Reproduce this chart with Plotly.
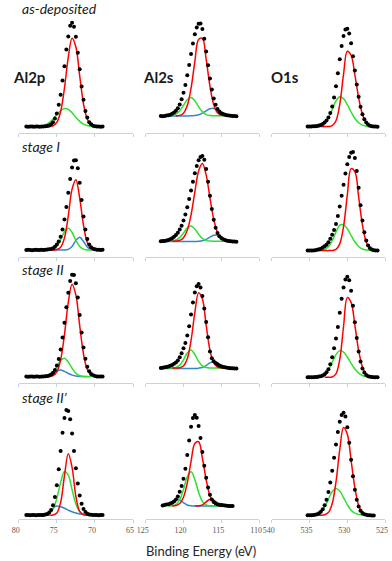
import plotly.graph_objects as go

N = None

# binding energy grids (eV) of the measured points
al2p_be = [79.0, 78.75, 78.5, 78.25, 78.0, 77.75, 77.5, 77.25, 77.0, 76.75, 76.5, 76.25, 76.0, 75.75,
           75.5, 75.25, 75.0, 74.75, 74.5, 74.25, 74.0, 73.75, 73.5, 73.25, 73.0, 72.75, 72.5, 72.25,
           72.0, 71.75, 71.5, 71.25, 71.0, 70.75, 70.5, 70.25, 70.0, 69.75, 69.5, 69.25, 69.0]
al2s_be = [123.0, 122.75, 122.5, 122.25, 122.0, 121.75, 121.5, 121.25, 121.0, 120.75, 120.5, 120.25,
           120.0, 119.75, 119.5, 119.25, 119.0, 118.75, 118.5, 118.25, 118.0, 117.75, 117.5, 117.25,
           117.0, 116.75, 116.5, 116.25, 116.0, 115.75, 115.5, 115.25, 115.0, 114.75, 114.5, 114.25,
           114.0, 113.75, 113.5, 113.25, 113.0]
o1s_be = [535.25, 535.0, 534.75, 534.5, 534.25, 534.0, 533.75, 533.5, 533.25, 533.0, 532.75, 532.5,
          532.25, 532.0, 531.75, 531.5, 531.25, 531.0, 530.75, 530.5, 530.25, 530.0, 529.75, 529.5,
          529.25, 529.0, 528.75, 528.5, 528.25, 528.0, 527.75, 527.5, 527.25, 527.0, 526.75, 526.5,
          526.25, 526.0]

# grids of the fitted components
al2p_fit_be = [79.0, 78.5, 78.0, 77.5, 77.0, 76.5, 76.0, 75.5, 75.0, 74.5, 74.0, 73.5, 73.0, 72.5,
               72.0, 71.5, 71.0, 70.5, 70.0, 69.5, 69.0]
al2s_fit_be = [123.0, 122.5, 122.0, 121.5, 121.0, 120.5, 120.0, 119.5, 119.0, 118.5, 118.0, 117.5,
               117.0, 116.5, 116.0, 115.5, 115.0, 114.5, 114.0, 113.5, 113.0]
o1s_fit_be = [535.0, 534.5, 534.0, 533.5, 533.0, 532.5, 532.0, 531.5, 531.0, 530.5, 530.0, 529.5,
              529.0, 528.5, 528.0, 527.5, 527.0, 526.5, 526.0]

# ---- as-deposited ----
al2p_asdep = [5.6, 5.4, 5.7, 5.5, 5.3, 5.6, 5.5, 5.4, 5.7, 5.6, 5.8, 6.1, 6.4, 7.6, 9.2, 12.6, 16.8,
              24.3, 32.9, 45.2, 57.6, 71.9, 83.2, 92.4, 95.0, 91.5, 83.0, 69.2, 54.9, 40.0, 28.7, 19.0,
              13.4, 9.3, 7.5, 6.2, 5.9, 5.5, 5.6, 5.4, 5.5]
al2p_asdep_red = [N, N, N, N, N, 5.5, 5.6, 6.2, 9.1, 18.5, 38.7, 65.2, 81.7, 74.1, 49.2, 25.2, 11.8,
                  6.9, 5.7, N, N]
al2p_asdep_green = [N, N, N, N, 6.1, 7.0, 8.9, 12.0, 15.9, 19.4, 21.2, 20.4, 17.4, 13.5, 10.0, 7.6,
                    6.4, 5.8, 5.6, N, N]

al2s_asdep = [14.6, 14.5, 14.7, 15.1, 15.4, 15.8, 16.5, 17.6, 19.2, 21.4, 24.6, 29.0, 34.6, 41.4,
              49.7, 58.6, 68.0, 77.2, 85.1, 90.9, 94.1, 94.3, 89.7, 81.2, 70.3, 58.4, 46.9, 37.4, 29.8,
              24.3, 20.7, 18.5, 17.1, 16.3, 15.8, 15.4, 15.1, 14.9, 14.7, 14.6, 14.5]
al2s_asdep_red = [N, N, N, N, 14.9, 15.2, 17.1, 23.6, 38.6, 61.5, 80.7, 81.5, 63.4, 40.4, 24.3, 17.4,
                  15.3, 14.9, N, N, N]
al2s_asdep_green = [N, 14.8, 14.9, 15.2, 16.3, 19.2, 23.9, 28.7, 30.5, 27.8, 22.6, 18.3, 15.9, 15.1,
                    14.9, 14.8, 14.8, 14.8, 14.8, N, N]
al2s_asdep_blue = [N, 14.7, 14.7, 14.7, 14.7, 14.7, 14.7, 14.7, 14.8, 15.0, 15.7, 17.1, 19.1, 20.9,
                   21.2, 19.9, 17.9, 16.1, 15.2, 14.8, N]

o1s_asdep = [5.6, 5.5, 5.7, 5.8, 5.9, 6.1, 6.4, 6.9, 7.7, 9.0, 10.7, 13.4, 17.2, 22.9, 30.6, 40.2,
             51.6, 63.6, 74.9, 83.7, 89.2, 89.9, 85.7, 77.3, 66.2, 53.8, 41.8, 31.2, 22.6, 16.2, 11.8,
             9.0, 7.3, 6.3, 5.9, 5.6, 5.5, 5.4]
o1s_asdep_red = [N, N, 5.5, 5.5, 5.5, 5.6, 6.3, 10.6, 24.7, 50.6, 70.5, 67.0, 50.1, 30.3, 16.2, 9.0,
                 6.4, 5.7, 5.5]
o1s_asdep_green = [N, N, 5.7, 6.5, 8.6, 13.1, 20.2, 27.6, 31.2, 29.6, 24.5, 18.1, 12.5, 8.8, 6.8, 5.9,
                   5.6, N, N]

# ---- stage I ----
al2p_st1 = [6.0, 6.2, 6.1, 5.9, 6.1, 6.2, 6.0, 6.1, 6.2, 6.1, 6.3, 6.4, 6.7, 7.0, 7.6, 8.8, 10.7,
            13.3, 17.5, 23.7, 32.3, 43.0, 55.3, 67.3, 77.1, 83.1, 83.5, 76.6, 64.1, 49.2, 35.0, 23.6,
            15.6, 10.8, 8.5, 7.2, 6.6, 6.3, 6.2, 6.1, 6.2]
al2p_st1_red = [N, N, N, N, N, N, 6.0, 6.0, 6.4, 8.4, 16.4, 35.3, 58.5, 66.6, 50.8, 27.3, 12.5, 7.3,
                6.2, N, N]
al2p_st1_green = [N, N, N, N, N, N, 6.2, 6.9, 9.4, 14.8, 21.6, 24.7, 21.1, 14.3, 9.1, 6.8, 6.1, 6.0,
                  N, N, N]
al2p_st1_blue = [N, N, N, N, N, N, N, 6.0, 6.0, 6.0, 6.0, 6.6, 9.1, 14.2, 17.0, 13.3, 8.5, 6.4, 6.0,
                 N, N]

al2s_st1 = [13.5, 13.7, 13.9, 14.2, 14.7, 15.3, 16.2, 17.4, 18.9, 20.9, 23.6, 27.0, 31.4, 36.7, 42.8,
            50.1, 57.4, 64.9, 72.1, 78.4, 83.3, 86.2, 87.1, 83.8, 75.8, 64.8, 52.7, 41.3, 32.1, 25.3,
            20.6, 17.9, 16.3, 15.3, 14.6, 14.1, 13.9, 13.6, 13.4, 13.3, 13.2]
al2s_st1_red = [N, N, N, 13.6, 13.7, 14.3, 16.6, 23.0, 36.3, 55.9, 74.2, 80.5, 70.6, 50.9, 32.5, 21.0,
                15.8, 14.1, 13.7, N, N]
al2s_st1_green = [N, 13.6, 13.6, 13.8, 14.6, 16.7, 20.7, 25.1, 26.7, 24.1, 19.6, 16.0, 14.3, 13.7,
                  13.6, 13.6, 13.6, 13.6, 13.6, 13.6, N]
al2s_st1_blue = [13.3, 13.3, 13.3, 13.3, 13.3, 13.3, 13.3, 13.3, 13.3, 13.3, 13.5, 14.0, 15.2, 17.1,
                 18.7, 18.8, 17.2, 15.3, 14.0, 13.5, 13.3]

o1s_st1 = [5.5, 5.5, 5.6, 5.7, 5.8, 6.2, 6.6, 7.2, 8.1, 9.2, 10.6, 12.8, 15.7, 19.1, 23.2, 28.4, 35.4,
           43.5, 52.8, 62.2, 72.0, 79.9, 86.1, 89.9, 90.6, 85.3, 74.2, 59.7, 44.7, 31.5, 21.4, 14.3,
           10.0, 7.6, 6.4, 5.8, 5.6, 5.5]
o1s_st1_red = [N, N, 5.5, 5.5, 5.5, 5.5, 5.6, 6.5, 11.3, 26.2, 53.3, 76.1, 73.7, 51.8, 27.7, 13.0,
               7.3, 5.8, 5.5]
o1s_st1_green = [N, N, 5.5, 5.7, 6.5, 8.8, 14.0, 21.4, 27.4, 27.9, 24.3, 18.6, 13.1, 9.1, 6.9, 6.0,
                 5.6, 5.5, N]

# ---- stage II ----
al2p_st2 = [5.5, 5.4, 5.6, 5.5, 5.3, 5.5, 5.6, 5.4, 5.5, 5.6, 5.8, 6.0, 6.5, 7.3, 8.8, 11.3, 15.1,
            20.7, 28.9, 39.3, 51.9, 65.2, 77.9, 87.9, 93.3, 93.0, 85.9, 73.6, 58.6, 43.6, 30.6, 20.9,
            14.1, 10.1, 7.8, 6.6, 6.0, 5.7, 5.6, 5.5, 5.5]
al2p_st2_red = [N, N, N, N, N, 5.5, 5.6, 6.3, 9.6, 20.0, 41.6, 69.3, 85.1, 75.7, 49.4, 25.0, 11.6,
                6.8, 5.7, 5.5, N]
al2p_st2_green = [N, N, N, N, 5.5, 5.8, 6.7, 9.4, 14.2, 19.4, 21.3, 18.1, 12.7, 8.4, 6.3, 5.7, 5.5,
                  5.5, N, N, N]
al2p_st2_blue = [N, N, N, N, N, 5.5, 5.6, 6.7, 10.1, 11.1, 10.0, 8.3, 6.8, 6.0, 5.6, 5.5, 5.5, N, N,
                 N, N]

al2s_st2 = [13.0, 13.2, 13.5, 13.8, 14.2, 14.8, 15.5, 16.5, 17.7, 19.5, 22.1, 25.7, 29.9, 34.4, 41.0,
            48.9, 59.1, 69.3, 78.0, 83.5, 85.3, 82.4, 75.1, 64.2, 52.6, 39.5, 27.1, 21.3, 18.8, 17.3,
            16.2, 15.1, 14.4, 13.9, 13.5, 13.2, 13.0, 12.8, 12.7, 12.6, 12.6]
al2s_st2_red = [N, N, N, 12.9, 12.9, 13.2, 14.7, 20.9, 36.7, 60.7, 77.7, 72.4, 49.8, 28.4, 17.3, 13.8,
                13.0, 12.9, 12.9, N, N]
al2s_st2_green = [N, 12.9, 12.9, 13.0, 13.4, 15.4, 20.0, 25.9, 28.4, 24.6, 18.6, 14.7, 13.3, 12.9,
                  12.9, 12.9, 12.9, 12.9, N, N, N]
al2s_st2_blue = [12.6, 12.6, 12.6, 12.6, 12.6, 12.6, 12.6, 12.6, 12.6, 12.6, 12.8, 13.4, 15.1, 17.4,
                 18.4, 17.1, 14.9, 13.3, 12.7, 12.6, 12.6]

o1s_st2 = [5.0, 5.0, 5.0, 5.0, 5.1, 5.2, 5.5, 5.9, 6.5, 7.5, 9.2, 11.8, 16.2, 22.3, 29.9, 38.3, 48.3,
           60.5, 72.6, 82.4, 89.3, 91.7, 88.5, 79.5, 66.7, 52.4, 38.7, 27.2, 18.5, 12.6, 9.0, 6.9, 5.8,
           5.3, 5.1, 5.0, 4.9, 4.9]
o1s_st2_red = [N, N, N, N, 4.9, 4.9, 5.2, 7.9, 20.3, 48.7, 73.6, 69.5, 49.8, 28.0, 13.8, 7.4, 5.4,
               4.9, N]
o1s_st2_green = [N, N, 5.1, 5.7, 7.4, 11.4, 17.7, 24.5, 27.9, 26.6, 22.4, 17.0, 12.0, 8.5, 6.5, 5.5,
                 5.1, 4.9, N]

# ---- stage II' ----
al2p_st2b = [3.4, 3.5, 3.3, 3.4, 3.5, 3.3, 3.4, 3.5, 3.4, 3.5, 3.8, 4.4, 5.6, 7.7, 11.9, 18.9, 29.2,
             42.8, 58.7, 74.4, 87.1, 93.9, 93.2, 85.9, 73.6, 58.7, 43.7, 30.5, 20.3, 13.2, 8.6, 6.0,
             4.6, 3.9, 3.6, 3.5, 3.4, 3.4, 3.3, 3.4, 3.4]
al2p_st2b_red = [N, N, N, N, N, 3.4, 3.4, 3.4, 5.1, 14.3, 37.2, 56.2, 44.5, 19.4, 6.5, 3.7, 3.4, 3.4,
                 3.4, N, N]
al2p_st2b_green = [N, N, N, N, N, 3.6, 4.7, 8.5, 17.8, 31.4, 40.9, 37.9, 25.3, 13.0, 6.3, 4.0, 3.5,
                   3.4, N, N, N]
al2p_st2b_blue = [N, N, N, N, 3.4, 3.6, 5.1, 9.3, 11.2, 10.5, 9.3, 7.7, 6.2, 5.1, 4.3, 3.8, 3.6, 3.5,
                  3.4, N, N]

al2s_st2b = [N, 11.7, 12.0, 12.4, 12.8, 13.3, 14.0, 15.1, 16.9, 19.4, 23.4, 28.5, 34.8, 43.4, 55.2,
             67.7, 79.5, 87.0, 89.7, 87.2, 80.1, 69.8, 57.8, 46.0, 35.5, 27.1, 21.0, 16.8, 14.7, 13.6,
             12.8, 12.3, 12.0, 11.8, 11.6, 11.4, 11.3, 11.2, 11.2, N, N]
al2s_st2b_red = [N, N, N, 11.3, 11.6, 13.3, 18.8, 31.1, 49.6, 65.1, 66.6, 52.6, 33.8, 20.2, 13.8,
                 11.8, 11.3, 11.2, N, N, N]
al2s_st2b_red2 = [N, N, N, N, N, N, N, N, N, 11.2, 11.4, 12.2, 14.7, 17.1, 16.2, 13.3, 11.6, 11.2, N,
                  N, N]
al2s_st2b_green = [N, N, 11.2, 11.4, 12.5, 16.6, 25.5, 36.4, 40.7, 34.1, 23.0, 15.2, 12.1, 11.3, 11.2,
                   11.2, N, N, N, N, N]
al2s_st2b_blue = [11.3, 11.6, 12.8, 15.1, 17.1, 16.5, 14.0, 12.1, 11.4, 11.2, 11.2, 11.2, 11.2, 11.2,
                  11.2, 11.2, 11.2, 11.2, 11.2, 11.2, N]

o1s_st2b = [3.2, 3.2, 3.3, 3.4, 3.7, 4.1, 5.0, 6.3, 8.5, 11.9, 16.7, 23.2, 31.5, 41.6, 52.7, 64.3, 75.0,
            83.8, 89.7, 91.7, 88.3, 79.0, 65.8, 51.0, 36.8, 25.2, 16.6, 10.7, 7.1, 5.1, 4.0, 3.6, 3.3,
            3.2, 3.1, 3.0, N, N]
o1s_st2b_red = [N, N, 3.2, 3.2, 3.6, 5.5, 13.1, 31.9, 59.7, 78.8, 73.1, 50.6, 26.9, 11.8, 5.6, 3.7, 3.2,
                N, N]
o1s_st2b_green = [N, 3.4, 4.1, 6.1, 10.4, 17.0, 23.6, 26.4, 24.1, 18.5, 12.4, 7.6, 5.0, 3.8, 3.3, 3.2,
                  N, N, N]

row_labels = ["as-deposited", "stage I", "stage II", "stage II\u2019"]
col_labels = ["Al2p", "Al2s", "O1s"]
x_ranges = [[80, 65], [125, 110], [540, 525]]
x_ticks = [[80, 75, 70, 65], [125, 120, 115, 110], [540, 535, 530, 525]]

RED = "#ff0000"
GREEN = "#2ee02e"
BLUE = "#3385cc"

panels = [
    (0, 0, al2p_be, al2p_asdep, al2p_fit_be, [(al2p_asdep_green, GREEN), (al2p_asdep_red, RED)]),
    (0, 1, al2s_be, al2s_asdep, al2s_fit_be, [(al2s_asdep_blue, BLUE), (al2s_asdep_green, GREEN), (al2s_asdep_red, RED)]),
    (0, 2, o1s_be, o1s_asdep, o1s_fit_be, [(o1s_asdep_green, GREEN), (o1s_asdep_red, RED)]),
    (1, 0, al2p_be, al2p_st1, al2p_fit_be, [(al2p_st1_blue, BLUE), (al2p_st1_green, GREEN), (al2p_st1_red, RED)]),
    (1, 1, al2s_be, al2s_st1, al2s_fit_be, [(al2s_st1_blue, BLUE), (al2s_st1_green, GREEN), (al2s_st1_red, RED)]),
    (1, 2, o1s_be, o1s_st1, o1s_fit_be, [(o1s_st1_green, GREEN), (o1s_st1_red, RED)]),
    (2, 0, al2p_be, al2p_st2, al2p_fit_be, [(al2p_st2_blue, BLUE), (al2p_st2_green, GREEN), (al2p_st2_red, RED)]),
    (2, 1, al2s_be, al2s_st2, al2s_fit_be, [(al2s_st2_blue, BLUE), (al2s_st2_green, GREEN), (al2s_st2_red, RED)]),
    (2, 2, o1s_be, o1s_st2, o1s_fit_be, [(o1s_st2_green, GREEN), (o1s_st2_red, RED)]),
    (3, 0, al2p_be, al2p_st2b, al2p_fit_be, [(al2p_st2b_blue, BLUE), (al2p_st2b_green, GREEN), (al2p_st2b_red, RED)]),
    (3, 1, al2s_be, al2s_st2b, al2s_fit_be, [(al2s_st2b_blue, BLUE), (al2s_st2b_green, GREEN), (al2s_st2b_red2, RED), (al2s_st2b_red, RED)]),
    (3, 2, o1s_be, o1s_st2b, o1s_fit_be, [(o1s_st2b_green, GREEN), (o1s_st2b_red, RED)]),
]

# page geometry (px) of the 392x561 picture
W, H = 392, 561
col_px = [(10, 128), (141, 258), (271, 388)]
axis_px = [133, 257, 383, 519]
panel_h = 116

fig = go.Figure()
layout = {}
for row, col, be, dots, fit_be, comps in panels:
    n = row * 3 + col + 1
    xa = "x" if n == 1 else f"x{n}"
    ya = "y" if n == 1 else f"y{n}"
    for vals, color in comps:
        fig.add_trace(go.Scatter(x=fit_be, y=vals, mode="lines", xaxis=xa, yaxis=ya,
                                 line=dict(color=color, width=1.5, shape="spline", smoothing=1),
                                 hoverinfo="skip"))
    fig.add_trace(go.Scatter(x=be, y=dots, mode="markers", xaxis=xa, yaxis=ya,
                             marker=dict(color="black", size=4)))

    x0, x1 = col_px[col]
    yb = axis_px[row]
    layout["xaxis" if n == 1 else f"xaxis{n}"] = dict(
        domain=[x0 / W, x1 / W], anchor=ya, range=x_ranges[col],
        showline=True, linecolor="#c9d3e0", linewidth=1, mirror=False,
        ticks="outside", ticklen=3, tickcolor="#c9d3e0", tickvals=x_ticks[col],
        showticklabels=(row == 3), showgrid=False, zeroline=False, ticklabelshift=3,
        tickfont=dict(family="Liberation Serif", size=8, color="#595959"))
    layout["yaxis" if n == 1 else f"yaxis{n}"] = dict(
        domain=[1 - yb / H, 1 - (yb - panel_h) / H], anchor=xa, range=[0, 100],
        visible=False)

annotations = []
for i, (txt, y) in enumerate(zip(row_labels, [8, 147, 270, 397])):
    annotations.append(dict(text=f"<i>{txt}</i>", x=11 / W, y=1 - y / H, xref="paper", yref="paper",
                            xanchor="left", yanchor="middle", showarrow=False,
                            font=dict(family="Lato", size=14, color="#1a1a1a")))
for txt, x in zip(col_labels, [2, 136, 268]):
    annotations.append(dict(text=f"<b>{txt}</b>", x=x / W, y=1 - 77 / H, xref="paper", yref="paper",
                            xanchor="left", yanchor="middle", showarrow=False,
                            font=dict(family="Lato", size=15, color="#1a1a1a")))
annotations.append(dict(text="Binding Energy (eV)", x=198 / W, y=1 - 551 / H, xref="paper",
                        yref="paper", xanchor="center", yanchor="middle", showarrow=False,
                        font=dict(family="Lato", size=13, color="#262626")))

fig.update_layout(width=W, height=H, margin=dict(l=0, r=0, t=0, b=0), showlegend=False,
                  plot_bgcolor="white", paper_bgcolor="white", annotations=annotations, **layout)
# the page has a default 8px body margin; drop it so the figure sits at the window corner
fig.write_html("out.html", config={"displayModeBar": False},
               post_script="document.body.style.margin='0';")
